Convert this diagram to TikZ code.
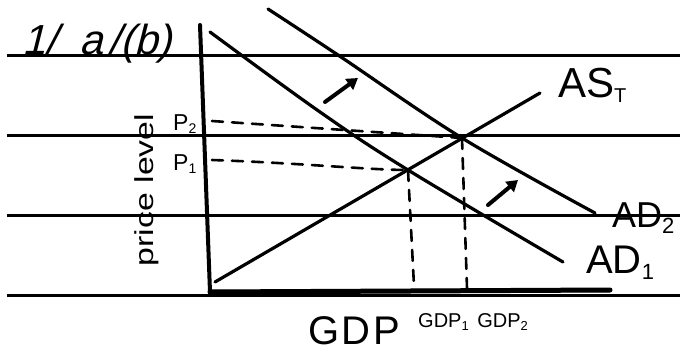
\documentclass[tikz,border=0pt]{standalone}
\usepackage{fontspec}
\setmainfont{Liberation Sans}
\usetikzlibrary{arrows.meta}
\begin{document}
\begin{tikzpicture}[x=1pt,y=-1pt,line cap=round,line join=round,
  rule/.style={line width=3pt,line cap=butt},
  axisline/.style={line width=4pt},
  curveline/.style={line width=3.2pt},
  guide/.style={line width=2.6pt,dash pattern=on 11pt off 9pt},
  shiftarrow/.style={line width=4pt,-{Triangle[length=11pt,width=13pt]}},
  lbl/.style={inner sep=0pt,anchor=base west}]
\useasboundingbox (0,0) rectangle (680,356);
% ruled lines
\draw[rule] (7,55) -- (680,55);
\draw[rule] (7,135) -- (680,135);
\draw[rule] (7,215) -- (680,215);
\draw[rule] (7,295) -- (680,295);
% axes
\coordinate (ytop) at (200,25);
\coordinate (origin) at (210,292);
\coordinate (xend) at (610,290);
\draw[axisline] (ytop) -- (origin) -- (xend);
\draw[line width=5pt] (origin) -- (xend);
% equilibrium points
\coordinate (E1) at (408,170);
\coordinate (E2) at (462,138);
% AS curve
\coordinate (asS) at (215,282);
\coordinate (asE) at (540,93);
\draw[curveline] (asS) -- (asE);
% AD1
\draw[curveline] plot[smooth,tension=0.6] coordinates {(210,32) (320,112) (E1) (563,262)};
% AD2
\draw[curveline] plot[smooth,tension=0.6] coordinates {(268,9) (338,55) (E2) (595,213)};
% shift arrows
\coordinate (a1s) at (325,102); \coordinate (a1e) at (358,78);
\coordinate (a2s) at (488,205); \coordinate (a2e) at (518,180);
\draw[shiftarrow] (a1s) -- (a1e);
\draw[shiftarrow] (a2s) -- (a2e);
% guides
\coordinate (p2tick) at (212,121);
\coordinate (p1tick) at (212,160);
\coordinate (g1) at (414,286);
\coordinate (g2) at (467,288);
\draw[guide] (p2tick) -- (E2);
\draw[guide] (p1tick) .. controls (300,163) and (370,170) .. (E1);
\draw[guide] (E1) -- (g1);
\draw[guide] (E2) -- (g2);
% labels
\node[lbl,font=\fontsize{42}{42}\selectfont] (title) at (22,54) {\addfontfeatures{FakeSlant=0.25}1/\hspace{22pt}a\hspace{6pt}/(b)};
\node[lbl,font=\fontsize{23}{23}\selectfont] (P2) at (173,130) {P\textsubscript{\fontsize{14}{14}\selectfont 2}};
\node[lbl,font=\fontsize{23}{23}\selectfont] (P1) at (173,170) {P\textsubscript{\fontsize{14}{14}\selectfont 1}};
\node[inner sep=0pt,rotate=90,font=\fontsize{26}{26}\selectfont] (ylab) at (147,190) {\scalebox{1.3}[1]{price level}};
\node[lbl,font=\fontsize{42}{42}\selectfont] (AS) at (558,97) {AS\textsubscript{\fontsize{20}{20}\selectfont T}};
\node[lbl,font=\fontsize{36}{36}\selectfont] (AD2) at (612,227) {AD\textsubscript{\fontsize{22}{22}\selectfont 2}};
\node[lbl,font=\fontsize{40}{40}\selectfont] (AD1) at (586,273) {AD\textsubscript{\fontsize{22}{22}\selectfont 1}};
\node[lbl,font=\fontsize{40}{40}\selectfont] (GDP) at (308,344) {\addfontfeatures{LetterSpace=6}GDP};
\node[lbl,font=\fontsize{20}{20}\selectfont] (gdps) at (418,327) {GDP\textsubscript{\fontsize{13}{13}\selectfont 1}\hspace{8pt}GDP\textsubscript{\fontsize{13}{13}\selectfont 2}};
\end{tikzpicture}
\end{document}
